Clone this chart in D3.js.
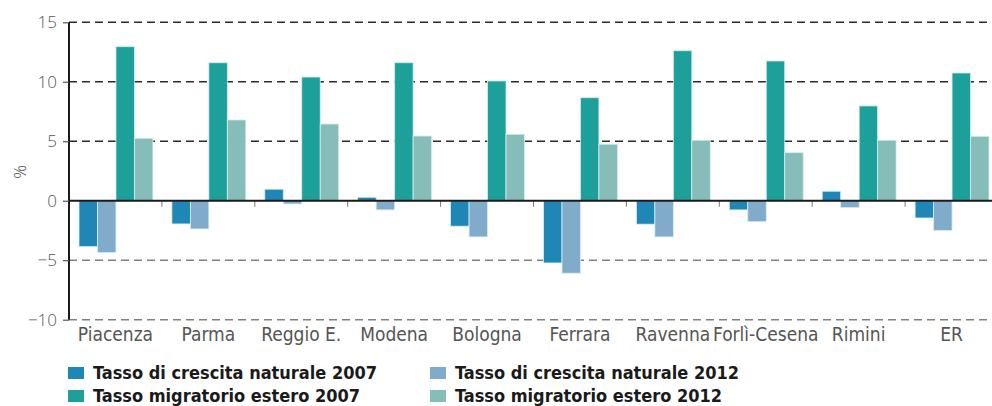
<!DOCTYPE html>
<head>
  <meta charset="UTF-8">
  <style>
    *{ margin: 0px; }
    body{ background: white; }
    svg{ position: absolute; font-family: "DejaVu Sans Condensed", "Liberation Sans Narrow", sans-serif; }
  </style>
  <script src="https://d3js.org/d3.v7.min.js"></script>
</head>
<body>
  <svg id="chart" width="992" height="406"></svg>
  <script>
    var provinces = ["Piacenza", "Parma", "Reggio E.", "Modena", "Bologna", "Ferrara", "Ravenna", "Forlì-Cesena", "Rimini", "ER"];
    var seriesNames = ["Tasso di crescita naturale 2007", "Tasso di crescita naturale 2012",
      "Tasso migratorio estero 2007", "Tasso migratorio estero 2012"];
    var natural2007 = [-3.86, -1.95, 0.97, 0.29, -2.14, -5.23, -1.97, -0.77, 0.8, -1.45];
    var natural2012 = [-4.36, -2.37, -0.27, -0.77, -3.04, -6.09, -3.04, -1.76, -0.58, -2.51];
    var migr2007 = [12.95, 11.6, 10.4, 11.6, 10.07, 8.66, 12.61, 11.75, 7.97, 10.74];
    var migr2012 = [5.25, 6.79, 6.45, 5.44, 5.59, 4.75, 5.08, 4.04, 5.08, 5.42];
    var yTicks = [-10, -5, 0, 5, 10, 15];
    var colors = ["#1f87b5", "#80abcb", "#1ea09a", "#87bdb9"];

    var series = [natural2007, natural2012, migr2007, migr2012];

    var svg = d3.select("#chart");

    var x = d3.scaleBand()
      .domain(provinces)
      .range([69, 998]);

    var inner = d3.scaleBand()
      .domain(d3.range(4))
      .range([10, x.bandwidth() - 9]);

    var y = d3.scaleLinear()
      .domain([-10, 15])
      .range([319.7, 22.3]);

    // grid lines
    svg.append("g")
      .selectAll("line")
      .data(yTicks.filter(d => d !== 0))
      .enter()
      .append("line")
      .attr("x1", 69)
      .attr("x2", 992)
      .attr("y1", d => y(d))
      .attr("y2", d => y(d))
      .attr("stroke", d => d > 0 ? "#2b2b2b" : "#808080")
      .attr("stroke-width", 1.6)
      .attr("stroke-dasharray", "8,5");

    // bars
    var groups = svg.append("g")
      .selectAll("g")
      .data(provinces)
      .enter()
      .append("g")
      .attr("transform", d => "translate(" + x(d) + ",0)");

    groups.selectAll("rect")
      .data((p, i) => series.map((s, k) => ({k: k, v: s[i]})))
      .enter()
      .append("rect")
      .attr("x", d => inner(d.k))
      .attr("width", inner.bandwidth())
      .attr("y", d => y(Math.max(0, d.v)))
      .attr("height", d => Math.abs(y(d.v) - y(0)))
      .attr("fill", d => colors[d.k])
      .attr("stroke", "#d6eef0")
      .attr("stroke-width", 0.8);

    // x axis ticks between categories
    svg.append("g")
      .selectAll("line")
      .data(provinces.slice(1))
      .enter()
      .append("line")
      .attr("x1", d => x(d))
      .attr("x2", d => x(d))
      .attr("y1", y(0))
      .attr("y2", y(0) + 6)
      .attr("stroke", "#777")
      .attr("stroke-width", 1);

    // zero line
    svg.append("line")
      .attr("x1", 69)
      .attr("x2", 992)
      .attr("y1", y(0))
      .attr("y2", y(0))
      .attr("stroke", "#1a1a1a")
      .attr("stroke-width", 2);

    // y axis
    var yAxis = d3.axisLeft(y)
      .tickValues(yTicks)
      .tickSize(6)
      .tickPadding(6);

    var ya = svg.append("g")
      .attr("transform", "translate(69,0)")
      .call(yAxis);
    ya.select(".domain")
      .attr("d", "M0," + y(15) + "V" + y(-10))
      .attr("stroke", "#1a1a1a")
      .attr("stroke-width", 2);
    ya.selectAll(".tick line").attr("stroke", "#555").attr("stroke-width", 1.2);
    ya.selectAll(".tick text")
      .attr("fill", "#555")
      .style("font-family", "'Open Sans', sans-serif")
      .style("font-size", "17px")
      .style("font-weight", "300");

    svg.append("text")
      .attr("transform", "translate(26,172) rotate(-90)")
      .attr("text-anchor", "middle")
      .attr("fill", "#555")
      .style("font-family", "'Open Sans', sans-serif")
      .style("font-size", "17px")
      .style("font-weight", "300")
      .text("%");

    // category labels
    svg.append("g")
      .selectAll("text")
      .data(provinces)
      .enter()
      .append("text")
      .attr("x", d => x(d) + x.bandwidth() / 2)
      .attr("y", 341)
      .attr("text-anchor", "middle")
      .attr("fill", "#555")
      .style("font-size", "19px")
      .text(d => d);

    // legend
    var legend = svg.append("g")
      .selectAll("g")
      .data(seriesNames)
      .enter()
      .append("g")
      .attr("transform", (d, i) => "translate(" + (i % 2 === 0 ? 68 : 430) + "," + (i < 2 ? 367 : 390) + ")");

    legend.append("rect")
      .attr("width", 16)
      .attr("height", 12)
      .attr("fill", (d, i) => colors[i]);

    legend.append("text")
      .attr("x", 25)
      .attr("y", 12)
      .attr("fill", "#1a1a1a")
      .style("font-size", "18px")
      .style("font-weight", "bold")
      .text(d => d);
  </script>
</body>
